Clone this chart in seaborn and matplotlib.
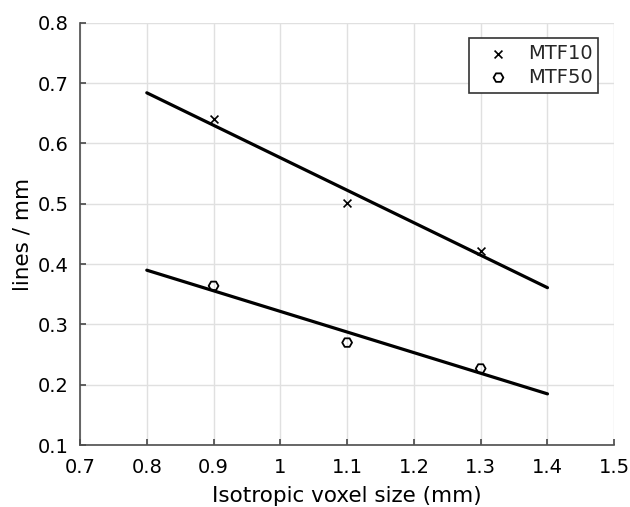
import matplotlib
matplotlib.use("Agg")
import matplotlib.pyplot as plt
import seaborn as sns
import pandas as pd

# Data
voxel_size = [0.9, 1.1, 1.3]
mtf10 = [0.641, 0.502, 0.422]
mtf50 = [0.364, 0.270, 0.227]
fit_x = [0.8, 1.4]
fit_mtf10 = [0.684, 0.361]
fit_mtf50 = [0.390, 0.185]
x_ticks = [0.7, 0.8, 0.9, 1.0, 1.1, 1.2, 1.3, 1.4, 1.5]
x_tick_labels = ["0.7", "0.8", "0.9", "1", "1.1", "1.2", "1.3", "1.4", "1.5"]
y_ticks = [0.1, 0.2, 0.3, 0.4, 0.5, 0.6, 0.7, 0.8]
y_tick_labels = ["0.1", "0.2", "0.3", "0.4", "0.5", "0.6", "0.7", "0.8"]

sns.set_theme(style="white")
plt.rcParams['font.family'] = ['DejaVu Sans']

fig = plt.figure(figsize=(6.3, 5.07), dpi=100)
ax = fig.add_axes([0.127, 0.122, 0.848, 0.833])

pts10 = pd.DataFrame({"x": voxel_size, "y": mtf10})
pts50 = pd.DataFrame({"x": voxel_size, "y": mtf50})
line10 = pd.DataFrame({"x": fit_x, "y": fit_mtf10})
line50 = pd.DataFrame({"x": fit_x, "y": fit_mtf50})

sns.lineplot(data=line10, x="x", y="y", ax=ax, color="black", linewidth=2.3, legend=False)
sns.lineplot(data=line50, x="x", y="y", ax=ax, color="black", linewidth=2.3, legend=False)
sns.scatterplot(data=pts10, x="x", y="y", ax=ax, marker="x", color="black", s=32,
                linewidth=1.2, label="MTF10", zorder=5)
sns.scatterplot(data=pts50, x="x", y="y", ax=ax, marker="H", facecolor="none",
                edgecolor="black", s=50, linewidth=1.3, label="MTF50", zorder=5)

ax.set_xlim(0.7, 1.5)
ax.set_ylim(0.1, 0.8)
ax.set_xticks(x_ticks)
ax.set_xticklabels(x_tick_labels)
ax.set_yticks(y_ticks)
ax.set_yticklabels(y_tick_labels)
ax.grid(True, color="#e0e0e0", linewidth=1)
ax.set_axisbelow(True)
for s in ["top", "right"]:
    ax.spines[s].set_visible(False)
for s in ["left", "bottom"]:
    ax.spines[s].set_color("#4d4d4d")
    ax.spines[s].set_linewidth(1.2)
ax.tick_params(axis="both", direction="in", length=4, color="#4d4d4d",
               labelsize=14, labelcolor="black", left=True, bottom=True)
ax.tick_params(axis="x", pad=9)
ax.tick_params(axis="y", pad=8)
ax.set_xlabel("Isotropic voxel size (mm)", fontsize=15.5, color="black", labelpad=6.5)
ax.set_ylabel("lines / mm", fontsize=15.5, color="black", labelpad=4)

leg = ax.legend(loc="upper right", bbox_to_anchor=(0.970, 0.964), borderaxespad=0,
                fontsize=14, frameon=True, fancybox=False, edgecolor="#333333",
                framealpha=1, handletextpad=0.3, borderpad=0.3, labelspacing=0.25,
                handlelength=2.4)
leg.get_frame().set_linewidth(1.2)

fig.savefig("out.png", dpi=100)
